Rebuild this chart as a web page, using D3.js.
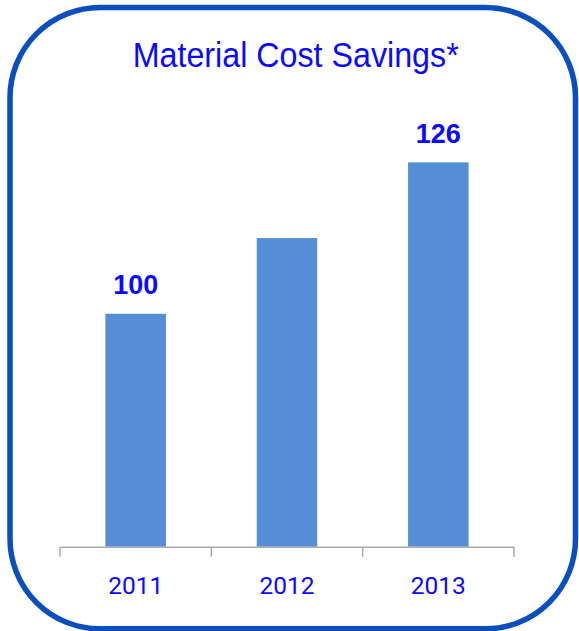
<!DOCTYPE html>
<html>
<head>
<meta charset="utf-8">
<script src="https://cdn.jsdelivr.net/npm/d3@7"></script>
<style>
  html, body { margin: 0; padding: 0; background: #ffffff; }
  svg { display: block; }
</style>
</head>
<body>
<svg id="chart" width="579" height="631"></svg>
<script>
const title = "Material Cost Savings*";
const categories = ["2011", "2012", "2013"];
const values = [100, 113, 126];
const valueLabels = ["100", "", "126"];
const yDomain = [60, 140];

const svg = d3.select("#chart");

// rounded frame
svg.append("rect")
  .attr("x", 10).attr("y", 7.5)
  .attr("width", 565.5).attr("height", 621.3)
  .attr("rx", 90).attr("ry", 90)
  .attr("fill", "#ffffff")
  .attr("stroke", "#0a4fbd")
  .attr("stroke-width", 5.5);

// title
svg.append("text")
  .attr("x", 132.7).attr("y", 67)
  .attr("textLength", 326)
  .attr("lengthAdjust", "spacingAndGlyphs")
  .attr("font-family", "'Liberation Sans Narrow', 'Liberation Sans', Arial, sans-serif")
  .attr("font-size", 35.5)
  .attr("fill", "#0a0aff")
  .text(title);

const x = d3.scaleBand()
  .domain(categories)
  .range([60, 514])
  .paddingInner(0.6)
  .paddingOuter(0.3);

const baseY = 546.7;
const y = d3.scaleLinear()
  .domain(yDomain)
  .range([baseY, baseY - (yDomain[1] - yDomain[0]) * 5.823]);

const data = categories.map((c, i) => ({ c, v: values[i], l: valueLabels[i] }));

// bars
svg.append("g").selectAll("rect")
  .data(data)
  .join("rect")
  .attr("x", d => x(d.c))
  .attr("y", d => y(d.v))
  .attr("width", x.bandwidth())
  .attr("height", d => y(yDomain[0]) - y(d.v))
  .attr("fill", "#558ed5");

// value labels
svg.append("g").selectAll("text")
  .data(data.filter(d => d.l))
  .join("text")
  .attr("x", d => x(d.c) + x.bandwidth() / 2)
  .attr("y", d => y(d.v) - 19.4)
  .attr("text-anchor", "middle")
  .attr("font-family", "'Liberation Sans', Arial, sans-serif")
  .attr("font-weight", "bold")
  .attr("font-size", 27)
  .attr("fill", "#0a0aff")
  .text(d => d.l);

// axis
const axisG = svg.append("g")
  .attr("transform", `translate(0,${baseY})`)
  .call(d3.axisBottom(x).tickSize(0).tickSizeOuter(0).tickFormat(""));
axisG.select(".domain").attr("stroke", "#ababab").attr("stroke-width", 1.5);

const step = x.step();
const bounds = d3.range(categories.length + 1).map(i => 60 + i * step);
axisG.selectAll(".bound")
  .data(bounds)
  .join("line")
  .attr("class", "bound")
  .attr("x1", d => d).attr("x2", d => d)
  .attr("y1", 0).attr("y2", 10)
  .attr("stroke", "#ababab")
  .attr("stroke-width", 1.5);

// category labels
svg.append("g").selectAll("text")
  .data(categories)
  .join("text")
  .attr("x", d => x(d) + x.bandwidth() / 2)
  .attr("y", 594)
  .attr("text-anchor", "middle")
  .attr("font-family", "Roboto, 'Liberation Sans', Arial, sans-serif")
  .attr("font-size", 24.5)
  .attr("fill", "#0a0aff")
  .text(d => d);
</script>
</body>
</html>
